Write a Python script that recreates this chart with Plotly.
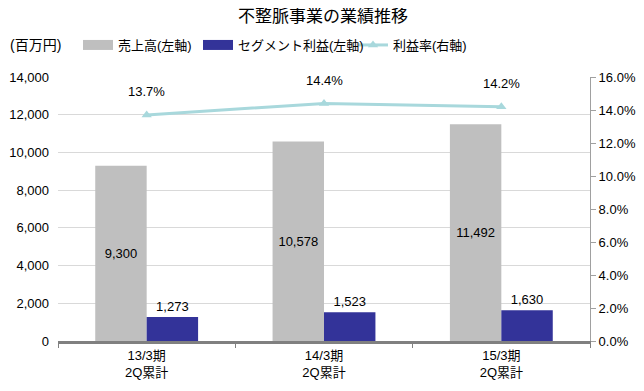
import plotly.graph_objects as go

categories = ["13/3期<br>2Q累計", "14/3期<br>2Q累計", "15/3期<br>2Q累計"]
sales = [9300, 10578, 11492]
segment_profit = [1273, 1523, 1630]
profit_rate = [13.7, 14.4, 14.2]

FONT = "Liberation Sans, Noto Sans CJK JP, sans-serif"
GRAY = "#bfbfbf"
NAVY = "#333399"
CYAN = "#a8d8dc"

W, H = 644, 391
# the page body adds an 8px offset; layout positions below are in figure pixels
L, R, T, B = 50, 62, 69, 58

fig = go.Figure()
fig.add_trace(go.Bar(
    x=categories, y=sales, name="売上高(左軸)", showlegend=False,
    marker=dict(color=GRAY, line=dict(width=0)),
    text=[f"{v:,}" for v in sales], textposition="inside",
    insidetextanchor="middle", textfont=dict(size=13, color="black"),
    yaxis="y",
))
fig.add_trace(go.Bar(
    x=categories, y=segment_profit, name="セグメント利益(左軸)", showlegend=False,
    marker=dict(color=NAVY, line=dict(width=0)),
    text=[f"{v:,}" for v in segment_profit], textposition="outside",
    textfont=dict(size=13, color="black"), cliponaxis=False,
    yaxis="y",
))
fig.add_trace(go.Scatter(
    x=categories, y=profit_rate, name="利益率(右軸)",
    mode="lines+markers",
    line=dict(color=CYAN, width=3),
    marker=dict(symbol="triangle-up", size=9, color=CYAN),
    yaxis="y2", legend="legend3",
))
# legend-only swatches for the bar series (wide rectangles like the reference)
fig.add_trace(go.Scatter(x=[None], y=[None], mode="lines", name="売上高(左軸)",
                         line=dict(color=GRAY, width=10), legend="legend"))
fig.add_trace(go.Scatter(x=[None], y=[None], mode="lines", name="セグメント利益(左軸)",
                         line=dict(color=NAVY, width=10), legend="legend2"))

for c, v in zip(categories, profit_rate):
    fig.add_annotation(x=c, y=v, yref="y2", text=f"{v:.1f}%", showarrow=False,
                       yshift=23, font=dict(size=13, color="black"))

pw, ph = W - L - R, H - T - B
fig.add_annotation(x=(0 - L) / pw, y=(H - 37 - B) / ph, xref="paper", yref="paper",
                   text="(百万円)", showarrow=False, xanchor="left", yanchor="middle",
                   font=dict(size=14))

legend_common = dict(orientation="h", yref="container", y=1 - 37 / H, yanchor="middle",
                     xref="container", xanchor="left", font=dict(size=13),
                     bgcolor="rgba(0,0,0,0)", itemwidth=30)

fig.update_layout(
    width=W, height=H,
    margin=dict(l=L, r=R, t=T, b=B, autoexpand=False),
    paper_bgcolor="white", plot_bgcolor="white",
    font=dict(family=FONT, size=13, color="black"),
    title=dict(text="不整脈事業の業績推移", x=(323 - 8) / W, xanchor="center",
               yref="container", y=1 - 8 / H, yanchor="middle",
               font=dict(size=17, color="black")),
    barmode="group", bargap=0.42, bargroupgap=0,
    showlegend=True,
    legend=dict(legend_common, x=70 / W),
    legend2=dict(legend_common, x=190 / W),
    legend3=dict(legend_common, x=345 / W),
    xaxis=dict(showline=True, linecolor="#808080", linewidth=3,
               ticks="outside", tickson="boundaries", ticklen=4, tickcolor="#808080",
               tickfont=dict(size=13), showgrid=False),
    yaxis=dict(range=[0, 14000], dtick=2000, tickformat=",d",
               showgrid=True, gridcolor="#d9d9d9", gridwidth=1,
               zeroline=False, showline=False, tickfont=dict(size=13),
               ticks="", ticklabelstandoff=8),
    yaxis2=dict(range=[0, 16], dtick=2, tickformat=".1f", ticksuffix="%",
                overlaying="y", side="right", showgrid=False, zeroline=False,
                showline=True, linecolor="#a0a0a0", linewidth=1,
                ticks="outside", ticklen=5, tickcolor="#a0a0a0",
                tickfont=dict(size=13)),
)
fig.write_html("out.html")
